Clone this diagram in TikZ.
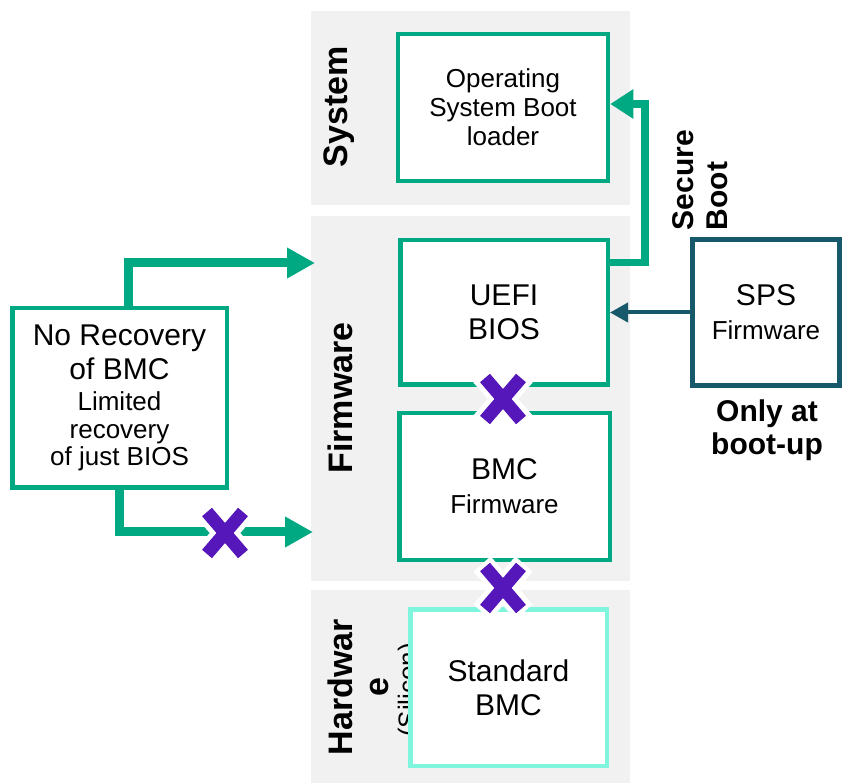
\documentclass[tikz,border=0pt]{standalone}
\usepackage{fontspec}
\setmainfont{Liberation Sans}
\usetikzlibrary{arrows.meta}
\definecolor{hgreen}{HTML}{01A982}
\definecolor{hpurple}{HTML}{5516BA}
\definecolor{hteal}{HTML}{15596A}
\definecolor{haqua}{HTML}{80F5DD}
\definecolor{panelgray}{HTML}{F1F1F1}
\tikzset{
  box/.style={draw=hgreen, line width=4.5pt, fill=white, align=center, inner sep=0pt,
    font=\fontsize{30}{34}\selectfont},
  paneltext/.style={rotate=90, align=center, font=\bfseries\fontsize{34}{36}\selectfont},
  greenarr/.style={draw=hgreen, line width=9pt, -{Triangle[length=28pt,width=29pt]}},
  securearr/.style={draw=hgreen, line width=7.5pt, -{Triangle[length=23pt,width=28pt]}},
  spsarr/.style={draw=hteal, line width=4pt, -{Triangle[length=18pt,width=19pt]}},
  xm/.pic={
    \draw[white, line width=23pt] (-21,-24)--(21,24) (-21,24)--(21,-24);
    \draw[hpurple, line width=13pt] (-18,-21)--(18,21) (-18,21)--(18,-21);
  }
}
\newcommand{\smalltxt}{\fontsize{26}{28}\selectfont}
\begin{document}
\begin{tikzpicture}[x=1pt,y=-1pt]
\useasboundingbox (0,0) rectangle (844,783);
% panels
\fill[panelgray] (311,11) rectangle (630,205);
\fill[panelgray] (311,216) rectangle (630,581);
\fill[panelgray] (311,590) rectangle (630,783);
% panel labels
\node[paneltext] (lsys) at (339,107) {System};
\node[paneltext] (lfw) at (340,398) {Firmware};
\node[paneltext] (lhw) at (358,687) {Hardwar\\e};
\node[rotate=90, font=\smalltxt] (lsil) at (410,690) {(Silicon)};
% boxes
\node[box, minimum width=210pt, minimum height=147pt, font=\fontsize{26}{29}\selectfont] (os) at (503,107.5) {Operating\\System Boot\\loader};
\node[box, minimum width=207.5pt, minimum height=144.5pt] (uefi) at (504,312.5) {UEFI\\BIOS};
\node[box, minimum width=210.5pt, minimum height=146.5pt] (bmcfw) at (504.5,486.5) {BMC\\{\smalltxt Firmware}};
\node[box, draw=haqua, minimum width=196.5pt, minimum height=156.5pt] (sbmc) at (508.5,687.5) {Standard\\BMC};
\node[box, minimum width=214.5pt, minimum height=179.5pt] (lb) at (119.5,398) {No Recovery\\of BMC\\[-3pt]{\smalltxt Limited}\\[-6pt]{\smalltxt recovery}\\[-7pt]{\smalltxt of just BIOS}};
\node[box, draw=hteal, line width=5pt, minimum width=147pt, minimum height=146pt] (sps) at (766,312.5) {SPS\\{\smalltxt Firmware}};
% free texts
\node[rotate=90, align=left, font=\bfseries\fontsize{30}{34}\selectfont] (sb) at (700,180) {Secure\\Boot};
\node[align=center, font=\bfseries\fontsize{30}{33}\selectfont] (only) at (767,430) {Only at\\boot-up};
% arrows
\coordinate (t1) at (315,263);
\coordinate (t2) at (313,532);
\draw[greenarr] ([xshift=8.5pt]lb.north) |- (t1);
\draw[greenarr] (lb.south) |- (t2);
\draw[securearr] ([yshift=50pt]uefi.east) -- ++(35,0) |- ([yshift=3.5pt]os.east);
\draw[spsarr] (sps.west) -- (uefi.east);
% x marks
\pic at (503,399) {xm};
\pic at (503,588) {xm};
\pic at (225,533) {xm};
\end{tikzpicture}
\end{document}
